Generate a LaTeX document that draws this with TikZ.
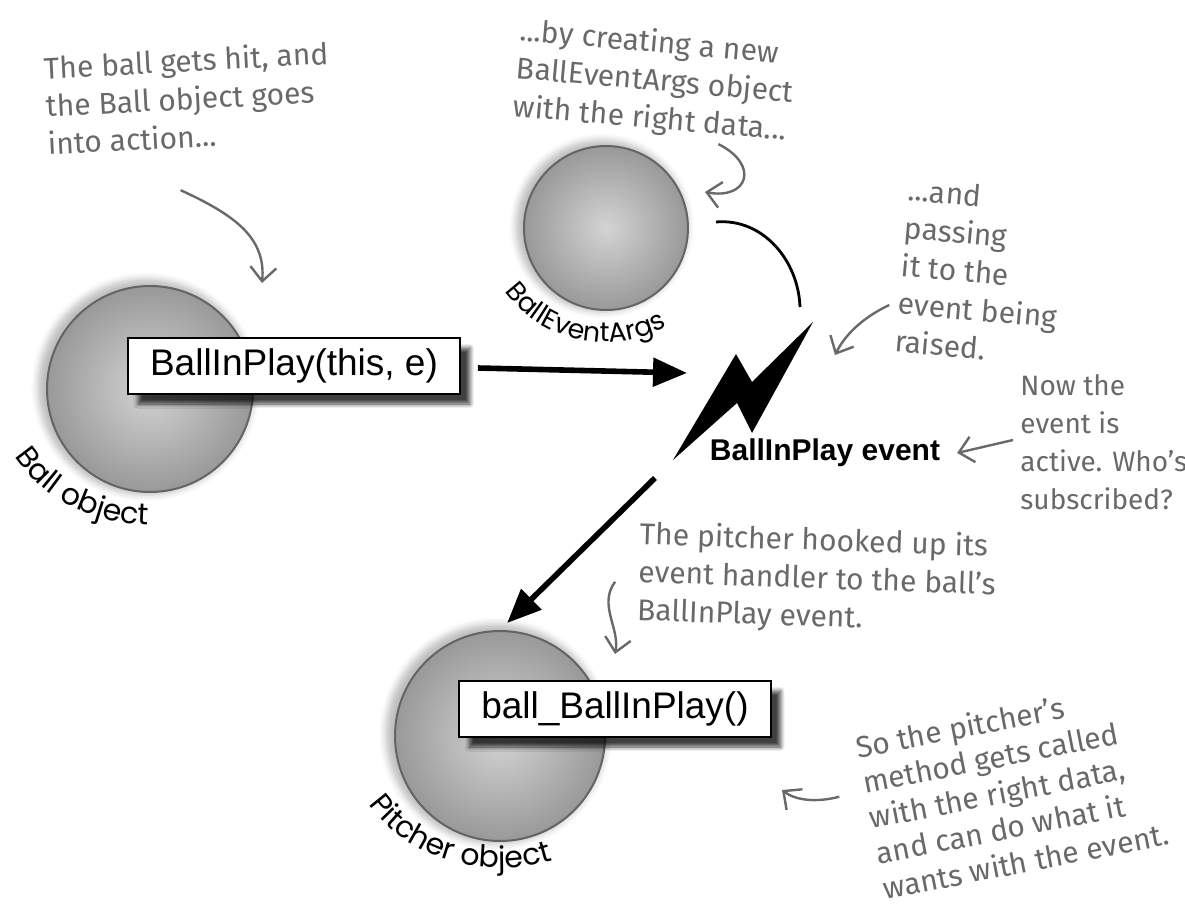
\documentclass[tikz,border=0pt]{standalone}
\usepackage{fontspec}
\setmainfont{Liberation Sans}
\newfontfamily\handfont{Fira Sans}
\newfontfamily\labelfont{Poppins}
\usepackage{tikz}
\usetikzlibrary{arrows.meta, positioning, decorations.text, shadows.blur}

\definecolor{pencil}{RGB}{105,105,105}
\definecolor{ballrim}{RGB}{100,100,100}

\begin{document}
\begin{tikzpicture}[x=0.5pt, y=-0.5pt,
            sphere/.style={circle, draw=ballrim, line width=1pt,
                    shading=radial, inner color=black!17, outer color=black!40,
                    blur shadow={shadow xshift=-2pt, shadow yshift=1pt, shadow scale=1.05,
                            shadow opacity=25, shadow blur radius=3pt}},
            callbox/.style={draw=black, line width=1pt, fill=white,
                    font=\fontsize{18.5}{20}\selectfont,
                    minimum height=28pt, inner xsep=11pt,
                    blur shadow={shadow xshift=5pt, shadow yshift=-5pt,
                            shadow blur steps=10, shadow opacity=75}},
            note/.style={font=\handfont\fontsize{15}{19}\selectfont, text=pencil,
                    align=left, inner sep=0pt},
            flow/.style={-{Triangle[length=17pt, width=14pt]}, line width=2.8pt},
            hint/.style={-{Straight Barb[length=7pt, width=13pt]}, line width=1.2pt,
                    color=pencil},
            arclabel/.style 2 args={decorate, decoration={text along path, text align=center,
                    text={|\labelfont\fontsize{#1}{#1}\selectfont|#2}}}
        ]
        \useasboundingbox (0,0) rectangle (1185,909);

        % ---------------------------------------------------------------
        % OBJECTS
        % ---------------------------------------------------------------

        % Ball, event args and pitcher spheres
        \node[sphere, minimum size=103pt] (ball) at (150,389) {};
        \node[sphere, minimum size=82pt] (args) at (606,228) {};
        \node[sphere, minimum size=105pt] (pitcher) at (500,736) {};

        % Method boxes
        \node[callbox] (raise) at (294,366) {BallInPlay(this, e)};
        \node[callbox] (handler) at (615,709) {ball\_BallInPlay()};

        % Curved object names
        \path[arclabel={15}{Ball object}] (ball.center) ++(198:78pt and 68pt)
            arc[start angle=198, end angle=280, x radius=78pt, y radius=68pt];
        \path[arclabel={13.5}{BallEventArgs}] (args.center) ++(208:61pt and 57pt)
            arc[start angle=208, end angle=306, x radius=61pt, y radius=57pt];
        \path[arclabel={15}{Pitcher object}] (pitcher.center) ++(198:77pt and 66pt)
            arc[start angle=198, end angle=302, x radius=77pt, y radius=66pt];

        % The event bolt
        \fill (673,460) -- (736,354) -- (752,382) -- (813,322)
            -- (752,433) -- (737,403) -- cycle;
        \coordinate (boltin) at (687,373);
        \coordinate (boltout) at (655,478);
        \coordinate (bolttop) at (800,307);
        \node[font=\bfseries\fontsize{15}{15}\selectfont] (evname) at (825,453) {BallInPlay event};

        % Arrows
        \draw[flow] ([xshift=8.5pt, yshift=-1pt]raise.east) -- (boltin);
        \draw[flow, shorten >=5pt] (boltout) -- (pitcher.north);
        \draw[line width=1.4pt] ([xshift=13.5pt, yshift=3pt]args.east)
            to[out=5, in=92] (bolttop);

        % ---------------------------------------------------------------
        % NOTES
        % ---------------------------------------------------------------
        \node[note, rotate=3] (hit) at (188,98)
            {The ball gets hit, and\\the Ball object goes\\into action...};
        \node[note, rotate=-5] (create) at (655,82)
            {...by creating a new\\BallEventArgs object\\with the right data...};
        \node[note, rotate=-5] (pass) at (981,272)
            {...and\\passing\\it to the\\event being\\raised.};
        \node[note, anchor=west, font=\handfont\fontsize{14}{19}\selectfont] (active) at (1020,442)
            {Now the\\event is\\active. Who’s\\subscribed?};
        \node[note, rotate=-2] (hooked) at (817,580)
            {The pitcher hooked up its\\event handler to the ball’s\\BallInPlay event.};
        \node[note, rotate=11, font=\handfont\fontsize{15}{18}\selectfont] (called) at (1012,790)
            {So the pitcher’s\\method gets called\\with the right data,\\and can do what it\\wants with the event.};

        % Note pointers
        \coordinate (hittip) at (262,283);
        \coordinate (createtip) at (705,192);
        \coordinate (passtip) at (835,355);
        \coordinate (calledtip) at (782,790);
        \draw[hint] ([shift={(-5pt,-21pt)}]hit.south) .. controls (235,215) and (266,238) .. (hittip);
        \draw[hint] ([shift={(34pt,-4.5pt)}]create.south) .. controls (760,165) and (748,200) .. (createtip);
        \draw[hint] ([shift={(-6pt,-20pt)}]pass.west) .. controls (862,318) and (845,335) .. (passtip);
        \draw[hint] ([xshift=-3.5pt, yshift=1pt]active.west) -- ([xshift=5pt]evname.east);
        \draw[hint] ([shift={(-11.5pt,-4pt)}]hooked.west) .. controls (598,605) and (620,628)
            .. ([yshift=13pt]handler.north);
        \draw[hint] ([shift={(-15pt,10.5pt)}]called.west) .. controls (815,803) and (795,800) .. (calledtip);

    \end{tikzpicture}
\end{document}
